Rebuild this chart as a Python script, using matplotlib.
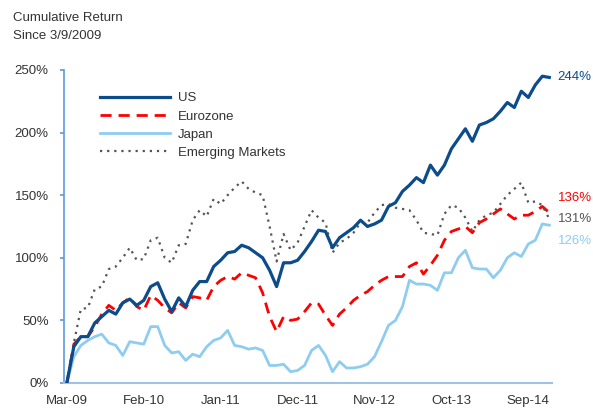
import numpy as np
import matplotlib
matplotlib.use("Agg")
import matplotlib.pyplot as plt

plt.rcParams['font.family'] = ['Liberation Sans', 'DejaVu Sans']

# monthly cumulative returns (%) since 3/9/2009
us = [0, 29, 37, 37, 48, 53, 58, 55, 64, 67, 62, 66, 77, 80, 67, 57, 68, 61, 74, 81,
      81, 93, 98, 104, 105, 110, 108, 104, 100, 90, 77, 96, 96, 98, 105, 113, 122, 121, 108, 116,
      120, 124, 130, 125, 127, 130, 141, 144, 153, 158, 164, 160, 174, 166, 174, 187, 195, 203, 193, 206,
      208, 211, 217, 224, 220, 233, 228, 238, 245, 244]
eurozone = [0, 31, 37, 37, 45, 55, 62, 58, 64, 68, 61, 58, 70, 66, 60, 56, 64, 60, 69, 68,
            66, 77, 82, 85, 83, 88, 86, 84, 72, 53, 41, 53, 50, 51, 57, 64, 63, 54, 46, 55,
            60, 66, 70, 73, 78, 82, 85, 85, 85, 93, 96, 87, 94, 102, 114, 121, 123, 125, 120, 128,
            131, 135, 139, 135, 131, 134, 134, 137, 141, 136]
japan = [0, 21, 30, 34, 37, 39, 32, 30, 22, 33, 32, 31, 45, 45, 30, 24, 25, 18, 23, 21,
         29, 34, 36, 42, 30, 29, 27, 28, 26, 14, 14, 15, 9, 10, 14, 26, 30, 22, 9, 17,
         12, 12, 13, 15, 21, 33, 46, 50, 61, 82, 79, 79, 78, 74, 88, 88, 100, 106, 92, 91,
         91, 84, 90, 100, 104, 101, 111, 114, 127, 126]
emerging = [0, 32, 59, 60, 75, 77, 91, 93, 100, 108, 98, 99, 114, 116, 100, 96, 110, 111, 130, 138,
            133, 147, 143, 150, 156, 161, 155, 152, 150, 125, 97, 119, 106, 112, 125, 138, 132, 128, 104, 112,
            115, 120, 128, 128, 136, 142, 143, 140, 139, 138, 130, 120, 119, 118, 135, 142, 140, 132, 121, 130,
            134, 136, 143, 150, 155, 160, 144, 145, 142, 131]

tick_idx = [0, 11, 22, 33, 44, 55, 66]
tick_labels = ['Mar-09', 'Feb-10', 'Jan-11', 'Dec-11', 'Nov-12', 'Oct-13', 'Sep-14']
end_labels = ['244%', '136%', '131%', '126%']

dark_blue = '#0D4C8B'
red = '#FF0000'
light_blue = '#8ECDF0'
gray = '#555555'
text_col = '#333333'
fs = 9.5

fig = plt.figure(figsize=(5.93, 4.09), dpi=100)
ax = fig.add_axes([0.108, 0.0636, 0.823, 0.7654])

x = np.arange(len(us))
ax.plot(x, us, color=dark_blue, lw=2.3, label='US', zorder=4)
ax.plot(x, eurozone, color=red, lw=2.0, dashes=(4, 2.5), label='Eurozone', zorder=3)
ax.plot(x, japan, color=light_blue, lw=2.0, label='Japan', zorder=2)
ax.plot(x, emerging, color=gray, lw=1.6, dashes=(1, 2.2), label='Emerging Markets', zorder=3)

ax.set_xlim(-0.4, 69.4)
ax.set_ylim(0, 250)
ax.set_yticks(range(0, 251, 50))
ax.set_yticklabels([f'{v}%' for v in range(0, 251, 50)])
ax.set_xticks(tick_idx)
ax.set_xticklabels(tick_labels)

for s in ['top', 'right']:
    ax.spines[s].set_visible(False)
ax.spines['left'].set_color('#5B9BD5')
ax.spines['left'].set_linewidth(1.2)
ax.spines['bottom'].set_color('#9DC3E6')
ax.spines['bottom'].set_linewidth(1.5)
ax.tick_params(axis='y', colors='#5B9BD5', length=3, width=1.2, pad=8,
               labelcolor=text_col, labelsize=fs)
ax.tick_params(axis='x', length=0, pad=9, labelcolor=text_col, labelsize=fs)

# end-of-series labels
last = len(us) - 1
label_y = [us[-1], 148, emerging[-1], 113]
label_cols = [dark_blue, red, gray, light_blue]
for txt, yy, c in zip(end_labels, label_y, label_cols):
    ax.text(last + 1.2, yy, txt, color=c, fontsize=fs, va='center', ha='left')

leg = ax.legend(loc='upper left', bbox_to_anchor=(0.05, 0.967), frameon=False,
                handlelength=5.3, handletextpad=0.55, labelspacing=0.45,
                fontsize=fs)
for t in leg.get_texts():
    t.set_color(text_col)

fig.text(0.022, 0.97, 'Cumulative Return\nSince 3/9/2009', fontsize=fs,
         color=text_col, va='top', ha='left', linespacing=1.6)

fig.savefig('out.png', dpi=100)
